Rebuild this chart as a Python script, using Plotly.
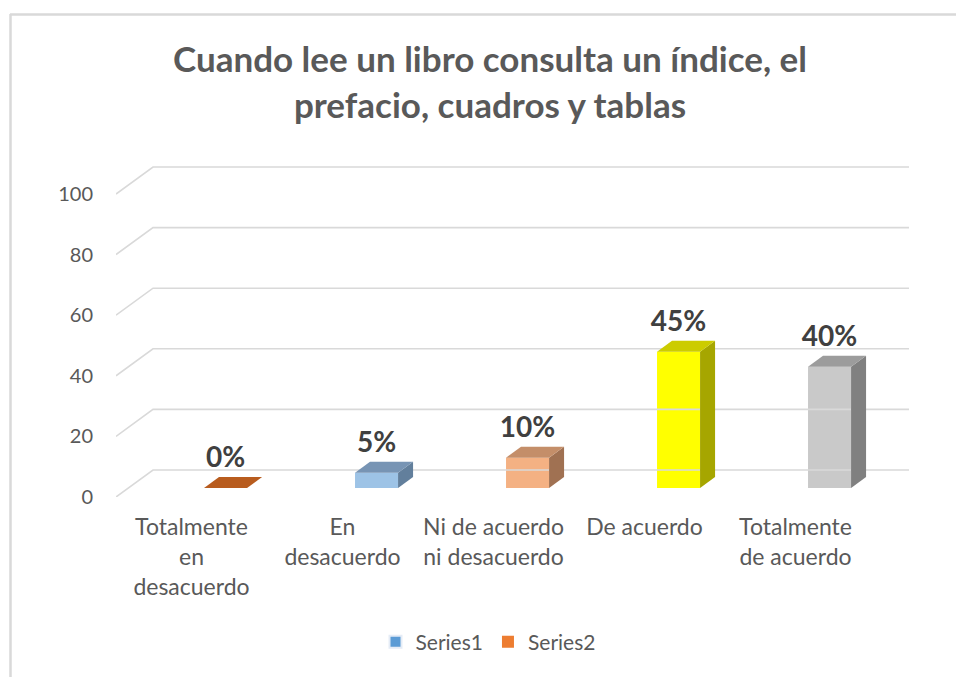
import plotly.graph_objects as go

# ---------------- data ----------------
categories = ["Totalmente en desacuerdo", "En desacuerdo",
              "Ni de acuerdo ni desacuerdo", "De acuerdo", "Totalmente de acuerdo"]
tick_labels = ["Totalmente<br>en<br>desacuerdo", "En<br>desacuerdo",
               "Ni de acuerdo<br>ni desacuerdo", "De acuerdo", "Totalmente<br>de acuerdo"]
series1_values = [None, None, None, None, None]
series2_values = [0, 5, 10, 45, 40]
value_labels = ["0%", "5%", "10%", "45%", "40%"]
y_ticks = [0, 20, 40, 60, 80, 100]

# ---------------- styling ----------------
front_colors = ["#ED7D31", "#9DC3E6", "#F4B183", "#FFFF00", "#C9C9C9"]
top_colors = ["#B85C1E", "#7794B4", "#C48E69", "#CCCC00", "#9C9C9C"]
side_colors = ["#8F4817", "#627F9C", "#A07152", "#A6A600", "#808080"]
GRID = "#D9D9D9"
FONT = "Lato"

W, H = 956, 677
PX_CAT = 151.0      # pixels per category
PX_UNIT = 3.03      # pixels per value unit
ML, MR, MT, MB = 116, 40, 140, 180
plot_w = W - ML - MR
plot_h = H - MT - MB
x_range = [-0.5, -0.5 + plot_w / PX_CAT]
y_range = [0, plot_h / PX_UNIT]

# 3D geometry (in axis units)
wall_dx, wall_dy = 37 / PX_CAT, 27 / PX_UNIT      # back wall depth
bar_dx, bar_dy = 15 / PX_CAT, 11 / PX_UNIT        # bar depth
bar_base = 9 / PX_UNIT                            # bars sit a bit behind front plane
bar_off, bar_w = 0.083, 0.285
wall_end = x_range[1] - 7 / PX_CAT

fig = go.Figure()

# back wall / floor gridlines
for t in y_ticks:
    fig.add_trace(go.Scatter(
        x=[-0.5, -0.5 + wall_dx, wall_end],
        y=[t, t + wall_dy, t + wall_dy],
        mode="lines", line=dict(color=GRID, width=1.6),
        showlegend=False, hoverinfo="skip"))

# legend-only series 1
fig.add_trace(go.Bar(x=list(range(len(categories))), y=series1_values, name="Series1",
                     marker=dict(color="#5B9BD5"), showlegend=True))

# front faces (series 2)
fig.add_trace(go.Bar(
    x=list(range(len(categories))), y=series2_values, base=bar_base,
    offset=bar_off, width=bar_w, name="Series2",
    marker=dict(color=front_colors, line=dict(width=0)),
    hovertext=categories, showlegend=True))

# side and top faces
for i, v in enumerate(series2_values):
    x0 = i + bar_off
    x1 = x0 + bar_w
    b = bar_base
    top = b + v
    fig.add_trace(go.Scatter(
        x=[x1, x1 + bar_dx, x1 + bar_dx, x1, x1],
        y=[b, b + bar_dy, top + bar_dy, top, b],
        fill="toself", fillcolor=side_colors[i], mode="lines",
        line=dict(width=0, color=side_colors[i]),
        showlegend=False, hoverinfo="skip"))
    fig.add_trace(go.Scatter(
        x=[x0, x0 + bar_dx, x1 + bar_dx, x1, x0],
        y=[top, top + bar_dy, top + bar_dy, top, top],
        fill="toself", fillcolor=top_colors[i], mode="lines",
        line=dict(width=0, color=top_colors[i]),
        showlegend=False, hoverinfo="skip"))

# data labels
fig.add_trace(go.Scatter(
    x=[i + bar_off + bar_w / 2 for i in range(len(series2_values))],
    y=[bar_base + v + bar_dy + 17 / PX_UNIT for v in series2_values],
    text=value_labels, mode="text", textposition="middle center",
    textfont=dict(family=FONT, size=28, color="#404040", weight="bold"),
    showlegend=False, hoverinfo="skip", cliponaxis=False))

# chart border (top and left edges)
def px_to_paper_x(px):
    return (px - ML) / plot_w

def px_to_paper_y(py):
    return (H - MB - py) / plot_h

fig.add_shape(type="line", xref="paper", yref="paper",
              x0=px_to_paper_x(10), x1=px_to_paper_x(960),
              y0=px_to_paper_y(14.5), y1=px_to_paper_y(14.5),
              line=dict(color="#D9D9D9", width=2.5))
fig.add_shape(type="line", xref="paper", yref="paper",
              x0=px_to_paper_x(10.5), x1=px_to_paper_x(10.5),
              y0=px_to_paper_y(14), y1=px_to_paper_y(680),
              line=dict(color="#D9D9D9", width=2.5))

fig.update_layout(
    width=W, height=H,
    margin=dict(l=ML, r=MR, t=MT, b=MB),
    paper_bgcolor="white", plot_bgcolor="white",
    barmode="overlay",
    title=dict(
        text="Cuando lee un libro consulta un índice, el<br>prefacio, cuadros y tablas",
        x=490 / W, xanchor="center", xref="container",
        y=1 - 72 / H, yanchor="middle", yref="container",
        font=dict(family=FONT, size=35, color="#595959", weight="bold")),
    xaxis=dict(range=x_range, tickmode="array",
               tickvals=list(range(len(categories))), ticktext=tick_labels,
               showgrid=False, zeroline=False, showline=False, ticks="",
               ticklabelstandoff=14,
               tickfont=dict(family=FONT, size=23, color="#595959"),
               fixedrange=True),
    yaxis=dict(range=y_range, tickmode="array", tickvals=y_ticks,
               showgrid=False, zeroline=False, showline=False, ticks="",
               ticklabelstandoff=22,
               tickfont=dict(family=FONT, size=20, color="#595959"),
               fixedrange=True),
    legend=dict(orientation="h", x=488 / W, xanchor="center", xref="container",
                y=1 - 642 / H, yanchor="middle", yref="container",
                font=dict(family=FONT, size=21, color="#595959"),
                traceorder="normal", itemsizing="constant"),
    showlegend=True,
)

fig.write_html("out.html", config={"displayModeBar": False},
               post_script="document.body.style.margin='0';")
